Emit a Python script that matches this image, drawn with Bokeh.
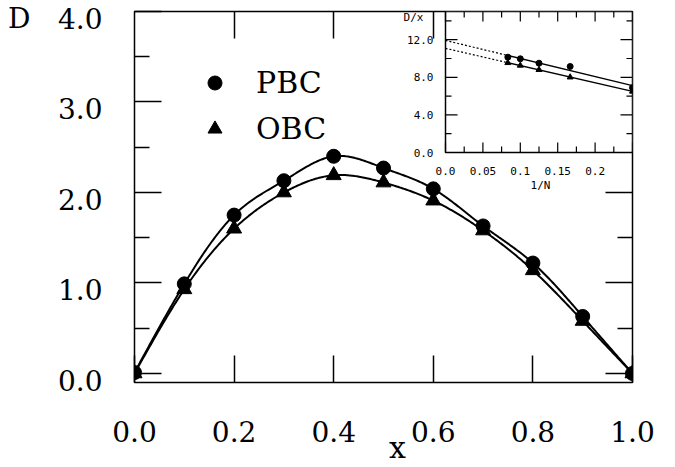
import numpy as np
from bokeh.plotting import figure
from bokeh.models import (Range1d, LinearAxis, FixedTicker, Legend, LegendItem, Label,
                          LabelSet, ColumnDataSource, NumeralTickFormatter)
from bokeh.embed import file_html
from bokeh.resources import INLINE
from bokeh.core.properties import value

# ---------------- data (main panel) ----------------
x_vals = [0.0, 0.1, 0.2, 0.3, 0.4, 0.5, 0.6, 0.7, 0.8, 0.9, 1.0]
pbc_D = [0.01, 0.99, 1.75, 2.13, 2.40, 2.27, 2.04, 1.63, 1.22, 0.63, 0.0]
obc_D = [0.0, 0.93, 1.60, 2.00, 2.19, 2.11, 1.91, 1.58, 1.14, 0.58, 0.0]
x_ticks = [0.0, 0.2, 0.4, 0.6, 0.8, 1.0]
y_ticks = [0.0, 1.0, 2.0, 3.0, 4.0]
y_minor = [0.5, 1.5, 2.5, 3.5]
series_names = ["PBC", "OBC"]
x_title = "x"
y_title = "D"

# ---------------- data (inset) ----------------
inv_N = [1 / 12, 1 / 10, 1 / 8, 1 / 6, 1 / 4]
pbc_Dx = [10.14, 9.97, 9.50, 9.15, 6.90]
obc_Dx = [9.54, 9.26, 8.80, 8.01, 6.50]
inset_x_major = [0.0, 0.05, 0.1, 0.15, 0.2, 0.25]
inset_x_labels = ["0.0", "0.05", "0.1", "0.15", "0.2"]
inset_x_minor = [0.025, 0.075, 0.125, 0.175, 0.225]
inset_y_major = [0.0, 4.0, 8.0, 12.0]
inset_y_labels = ["0.0", "4.0", "8.0", "12.0"]
inset_y_minor = [2.0, 6.0, 10.0, 14.0]
inset_x_title = "1/N"
inset_y_title = "D/x"

# ---------------- layout constants (pixels) ----------------
W, H = 675, 467
FL, FR, FT, FB = 134, 632, 11, 382          # main frame
IL, IB = 445, 152                            # inset left / bottom (shares top/right)
XR = (0.0, 1.0)
YR = (-0.1, 4.0)
IXR = (0.0, 0.25)
IYR = (0.0, 15.0)
YLAB_SHIFT_PX = 7      # y tick labels sit slightly below their ticks
X_TITLE_PX = 397       # horizontal centre of the "x" title

SERIF = "DejaVu Serif"
MONO = "DejaVu Sans Mono"


def natural_spline(xs, ys, n=400):
    xs = np.asarray(xs, float)
    ys = np.asarray(ys, float)
    m = len(xs)
    h = np.diff(xs)
    A = np.zeros((m, m))
    r = np.zeros(m)
    A[0, 0] = A[-1, -1] = 1.0
    for i in range(1, m - 1):
        A[i, i - 1] = h[i - 1]
        A[i, i] = 2 * (h[i - 1] + h[i])
        A[i, i + 1] = h[i]
        r[i] = 3 * ((ys[i + 1] - ys[i]) / h[i] - (ys[i] - ys[i - 1]) / h[i - 1])
    c = np.linalg.solve(A, r)
    b = (ys[1:] - ys[:-1]) / h - h * (2 * c[:-1] + c[1:]) / 3
    d = (c[1:] - c[:-1]) / (3 * h)
    xx = np.linspace(xs[0], xs[-1], n)
    idx = np.clip(np.searchsorted(xs, xx) - 1, 0, m - 2)
    dx = xx - xs[idx]
    yy = ys[idx] + b[idx] * dx + c[idx] * dx ** 2 + d[idx] * dx ** 3
    return xx, yy


p = figure(width=W, height=H, output_backend="svg", toolbar_location=None,
           x_range=Range1d(*XR), y_range=Range1d(*YR),
           min_border_left=FL, min_border_right=W - FR,
           min_border_top=FT, min_border_bottom=H - FB)
p.grid.visible = False
p.outline_line_color = "black"
p.outline_line_width = 1.5
p.background_fill_color = "white"
p.border_fill_color = "white"

# extra ranges: shifted copy of y for tick labels, and the inset's own scales
y_off = YLAB_SHIFT_PX * (YR[1] - YR[0]) / (FB - FT)
ix0 = IXR[0] - (IXR[1] - IXR[0]) * (IL - FL) / (FR - IL)
iy0 = IYR[0] - (IYR[1] - IYR[0]) * (FB - IB) / (IB - FT)
p.extra_x_ranges = {"ix": Range1d(ix0, IXR[1])}
p.extra_y_ranges = {"iy": Range1d(iy0, IYR[1]),
                    "ylab": Range1d(YR[0] + y_off, YR[1] + y_off)}


def style_ticks(ax, tick_major=27, tick_minor=15):
    ax.axis_line_color = None
    ax.major_tick_in = tick_major
    ax.major_tick_out = 0
    ax.minor_tick_in = tick_minor
    ax.minor_tick_out = 0
    ax.major_tick_line_width = 1.5
    ax.minor_tick_line_width = 1.5
    ax.major_tick_line_color = "black"
    ax.minor_tick_line_color = "black"


def no_labels(ax):
    ax.major_label_text_font_size = "0px"
    ax.major_label_text_color = None
    ax.major_label_standoff = 0


def labels_only(ax, size="28px", standoff=0):
    ax.axis_line_color = None
    ax.major_tick_line_color = None
    ax.minor_tick_line_color = None
    ax.major_tick_in = 0
    ax.major_tick_out = 0
    ax.minor_tick_in = 0
    ax.minor_tick_out = 0
    ax.major_label_text_font = SERIF
    ax.major_label_text_font_size = size
    ax.major_label_text_color = "black"
    ax.major_label_standoff = standoff


# bottom: ticks + labels
xb = p.below[0]
style_ticks(xb)
xb.ticker = FixedTicker(ticks=x_ticks, minor_ticks=[])
xb.formatter = NumeralTickFormatter(format="0.0")
xb.major_label_text_font = SERIF
xb.major_label_text_font_size = "28px"
xb.major_label_text_color = "black"
xb.major_label_standoff = 38

# bottom title "x" as a one-tick axis stacked below
x_title_val = XR[0] + (X_TITLE_PX - FL) / (FR - FL) * (XR[1] - XR[0])
xt = LinearAxis(ticker=FixedTicker(ticks=[x_title_val], minor_ticks=[]),
                major_label_overrides={x_title_val: x_title})
labels_only(xt, size="30px", standoff=-15)
p.add_layout(xt, "below")

# left: ticks only (nearest the frame)
yl = p.left[0]
style_ticks(yl)
yl.ticker = FixedTicker(ticks=y_ticks, minor_ticks=y_minor)
no_labels(yl)

# left: tick labels (shifted range)
ylab = LinearAxis(y_range_name="ylab", ticker=FixedTicker(ticks=y_ticks, minor_ticks=[]),
                  formatter=NumeralTickFormatter(format="0.0"))
labels_only(ylab, size="28px", standoff=32)
p.add_layout(ylab, "left")

# left: title "D" beside the top label
yt = LinearAxis(y_range_name="ylab", ticker=FixedTicker(ticks=[YR[1]], minor_ticks=[]),
                major_label_overrides={YR[1]: y_title})
labels_only(yt, size="28px", standoff=24)
p.add_layout(yt, "left")

# mirror axes (ticks only) outside the inset region
xa = LinearAxis(ticker=FixedTicker(ticks=[t for t in x_ticks if 0 < t < 0.65], minor_ticks=[]))
style_ticks(xa)
no_labels(xa)
p.add_layout(xa, "above")

yr = LinearAxis(ticker=FixedTicker(ticks=[t for t in y_ticks if t < 2.5],
                                   minor_ticks=[t for t in y_minor if t < 2.0]))
style_ticks(yr)
no_labels(yr)
p.add_layout(yr, "right")

# ---------------- main curves + markers ----------------
sx, sy = natural_spline(x_vals, pbc_D)
p.line(sx, sy, line_color="black", line_width=2)
sx2, sy2 = natural_spline(x_vals, obc_D)
p.line(sx2, sy2, line_color="black", line_width=2)
r1 = p.scatter(x_vals, pbc_D, marker="circle", size=14, color="black")
r2 = p.scatter(x_vals, obc_D, marker="triangle", size=15, color="black")

legend = Legend(items=[LegendItem(label=series_names[0], renderers=[r1]),
                       LegendItem(label=series_names[1], renderers=[r2])],
                location=(63, 236), orientation="vertical",
                glyph_width=35, glyph_height=35, spacing=11, label_standoff=24,
                padding=0, margin=0, border_line_color=None, background_fill_alpha=0,
                label_text_font=SERIF, label_text_font_size="30px",
                label_text_color="black")
p.add_layout(legend)

# ---------------- inset (drawn in extra ranges) ----------------
kw = dict(x_range_name="ix", y_range_name="iy")

p.quad(left=[IXR[0]], right=[IXR[1]], bottom=[IYR[0]], top=[IYR[1]],
       fill_color="white", line_color="black", line_width=1.5, **kw)


def ticks(xs, ys, ang, length):
    p.ray(x=xs, y=ys, length=length, angle=ang, length_units="screen",
          line_color="black", line_width=1.2, **kw)


ticks(inset_x_major, [IYR[0]] * len(inset_x_major), np.pi / 2, 10)
ticks(inset_x_minor, [IYR[0]] * len(inset_x_minor), np.pi / 2, 6)
ticks(inset_x_major, [IYR[1]] * len(inset_x_major), -np.pi / 2, 10)
ticks(inset_x_minor, [IYR[1]] * len(inset_x_minor), -np.pi / 2, 6)
ticks([IXR[0]] * len(inset_y_major), inset_y_major, 0.0, 12)
ticks([IXR[0]] * len(inset_y_minor), inset_y_minor, 0.0, 6)
ticks([IXR[1]] * len(inset_y_major), inset_y_major, np.pi, 12)
ticks([IXR[1]] * len(inset_y_minor), inset_y_minor, np.pi, 6)

# inset linear fits: solid over the data, dotted extrapolation to 1/N = 0
for ys in (pbc_Dx, obc_Dx):
    k, b0 = np.polyfit(inv_N, ys, 1)
    xs_solid = [min(inv_N), IXR[1]]
    p.line(xs_solid, [b0 + k * v for v in xs_solid], line_color="black", line_width=1.3, **kw)
    xs_dot = [IXR[0], min(inv_N)]
    p.line(xs_dot, [b0 + k * v for v in xs_dot], line_color="black", line_width=1.2,
           line_dash="2 2", **kw)

p.scatter(inv_N, pbc_Dx, marker="circle", size=6, color="black", **kw)
p.scatter(inv_N, obc_Dx, marker="triangle", size=6, color="black", **kw)

xl_src = ColumnDataSource(dict(x=inset_x_major[:len(inset_x_labels)],
                               y=[IYR[0]] * len(inset_x_labels), t=inset_x_labels))
p.add_layout(LabelSet(x="x", y="y", text="t", source=xl_src, text_align="center",
                      text_baseline="middle", y_offset=-18, text_font=value(MONO),
                      text_font_size="11px", text_color="black", **kw))
yl_src = ColumnDataSource(dict(x=[IXR[0]] * len(inset_y_labels), y=inset_y_major,
                               t=inset_y_labels))
p.add_layout(LabelSet(x="x", y="y", text="t", source=yl_src, text_align="right",
                      text_baseline="middle", x_offset=-12, text_font=value(MONO),
                      text_font_size="11px", text_color="black", **kw))


def inset_px(px, py):
    return (IXR[0] + (px - IL) / (FR - IL) * (IXR[1] - IXR[0]),
            IYR[0] + (IB - py) / (IB - FT) * (IYR[1] - IYR[0]))


lx, ly = inset_px(413, 17)
p.add_layout(Label(x=lx, y=ly, text=inset_y_title, text_align="center", text_baseline="middle",
                   text_font=MONO, text_font_size="11px", text_color="black", **kw))
lx, ly = inset_px(540, 185)
p.add_layout(Label(x=lx, y=ly, text=inset_x_title, text_align="center", text_baseline="middle",
                   text_font=MONO, text_font_size="11px", text_color="black", **kw))

open("out.html", "w").write(file_html(p, INLINE))
